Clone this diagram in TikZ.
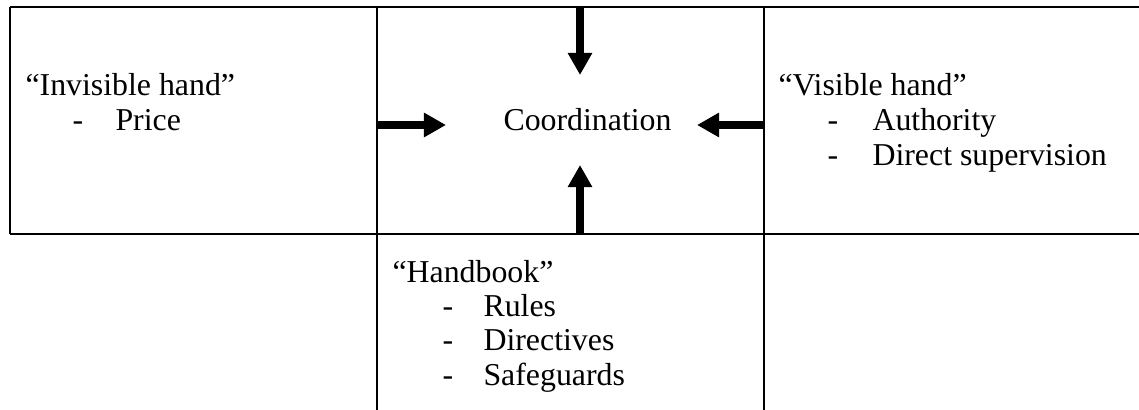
\documentclass[tikz,border=0pt]{standalone}
\usepackage{fontspec}
\setmainfont{Liberation Serif}
\usetikzlibrary{arrows.meta}
\begin{document}
\begin{tikzpicture}[x=0.38pt,y=-0.38pt,
  rule/.style={line width=0.8pt},
  push/.style={line width=3pt,-{Triangle[width=8.8pt,length=8.4pt]}},
  txt/.style={anchor=base west,inner sep=0pt,font=\fontsize{12.1}{14}\selectfont}]
\useasboundingbox (0,0) rectangle (1139,410);
% table rules
\draw[rule] (10,7) -- (1139,7);
\draw[rule] (10,7) -- (10,234);
\draw[rule] (10,234) -- (1139,234);
\draw[rule] (377,7) -- (377,410);
\draw[rule] (764,7) -- (764,410);

% centre cell
\node[txt] (coord) at (503,130) {Coordination};

% left cell
\node[txt] (inv) at (25,95) {``Invisible hand''};
\node[txt] (invd) at (72,130) {-};
\node[txt] (price) at (115,130) {Price};

% right cell
\node[txt] (vis) at (778,95) {``Visible hand''};
\node[txt] (visd1) at (827,130) {-};
\node[txt] (auth) at (872,130) {Authority};
\node[txt] (visd2) at (827,165) {-};
\node[txt] (sup) at (872,165) {Direct supervision};

% lower cell
\node[txt] (hb) at (392,282) {``Handbook''};
\node[txt] (hbd1) at (442,316) {-};
\node[txt] (rules) at (483,316) {Rules};
\node[txt] (hbd2) at (442,350) {-};
\node[txt] (dir) at (483,350) {Directives};
\node[txt] (hbd3) at (442,385) {-};
\node[txt] (safe) at (483,385) {Safeguards};

% arrows into the centre
\coordinate (topS) at (580,7);
\coordinate (topE) at (580,75);
\coordinate (botS) at (580,234);
\coordinate (botE) at (580,165);
\coordinate (lefS) at (377,125);
\coordinate (lefE) at (446,125);
\coordinate (rigS) at (764,125);
\coordinate (rigE) at (697,125);
\draw[push] (topS) -- (topE);
\draw[push] (botS) -- (botE);
\draw[push] (lefS) -- (lefE);
\draw[push] (rigS) -- (rigE);
\end{tikzpicture}
\end{document}
